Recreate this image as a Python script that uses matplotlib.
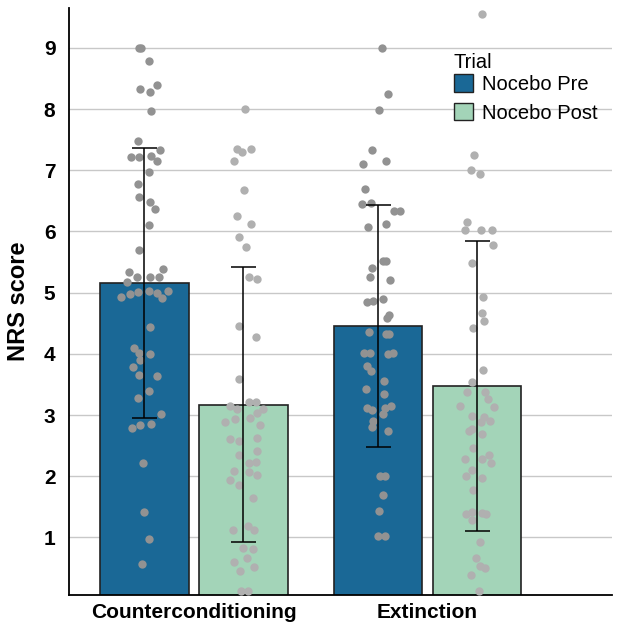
import numpy as np
import matplotlib
matplotlib.use("Agg")
from matplotlib import pyplot as plt
from matplotlib.patches import Patch

plt.rcParams["font.family"] = ["Liberation Sans", "DejaVu Sans"]

conditions = ["Counterconditioning", "Extinction"]
trials = ["Nocebo Pre", "Nocebo Post"]

# bar heights (means) and error bar half-widths (SD)
means = {"Nocebo Pre": [5.16, 4.46], "Nocebo Post": [3.17, 3.47]}
sds = {"Nocebo Pre": [2.21, 1.98], "Nocebo Post": [2.25, 2.37]}

# individual NRS scores (value, horizontal jitter in category units)
cc_pre = [9.0, 9.0, 8.78, 8.40, 8.33, 8.28, 7.97, 7.48, 7.33, 7.21, 7.21, 7.24, 7.15,
          6.98, 6.78, 6.56, 6.48, 6.37, 6.11, 5.69, 5.34, 5.38, 5.26, 5.26, 5.26, 5.17,
          4.93, 4.98, 5.01, 5.03, 5.0, 5.03, 4.91, 4.44, 4.09, 4.02, 4.0, 3.90, 3.79,
          3.66, 3.64, 3.40, 3.28, 3.02, 2.79, 2.84, 2.85, 2.22, 1.41, 0.98, 0.56]
cc_pre_jit = [-0.021, -0.015, 0.019, 0.053, -0.020, 0.024, 0.027, -0.027, 0.067, -0.058,
              -0.023, 0.029, 0.054, 0.021, -0.027, -0.021, 0.026, 0.046, 0.021, -0.021,
              -0.067, 0.081, -0.030, 0.023, 0.062, -0.073, -0.099, -0.063, -0.026, 0.020,
              0.054, 0.103, 0.075, 0.023, -0.045, -0.023, 0.026, -0.018, -0.050, -0.021,
              0.054, 0.021, -0.026, 0.070, -0.054, -0.018, 0.030, -0.006, -0.001, 0.019,
              -0.009]

cc_post = [8.0, 7.34, 7.30, 7.34, 7.16, 6.67, 6.25, 6.12, 5.91, 5.75, 5.25, 5.22, 4.45,
           4.27, 3.59, 3.22, 3.21, 3.15, 3.10, 3.10, 3.04, 2.96, 2.89, 2.93, 2.84, 2.61,
           2.57, 2.63, 2.41, 2.35, 2.22, 2.23, 2.09, 2.07, 2.02, 1.94, 1.86, 1.64, 1.19,
           1.13, 1.13, 0.83, 0.81, 0.67, 0.60, 0.52, 0.46, 0.13, 0.13]
cc_post_jit = [0.007, -0.029, -0.006, 0.031, -0.039, 0.001, -0.029, 0.033, -0.017, 0.010,
               0.023, 0.056, -0.018, 0.053, -0.021, 0.026, 0.054, -0.057, -0.027, 0.083,
               0.060, 0.027, -0.080, -0.036, 0.073, -0.057, -0.021, 0.059, 0.057, -0.018,
               0.024, 0.053, -0.039, 0.023, 0.060, -0.059, -0.020, 0.043, 0.018, -0.043,
               0.044, -0.003, 0.043, 0.016, -0.040, 0.047, -0.013, -0.009, 0.018]

ext_pre = [9.0, 8.24, 7.99, 7.33, 7.16, 7.10, 6.70, 6.45, 6.47, 6.34, 6.33, 6.07, 6.12,
           5.52, 5.51, 5.41, 5.25, 5.21, 4.84, 4.87, 4.90, 4.64, 4.59, 4.35, 4.33, 4.33,
           4.02, 4.02, 4.00, 4.02, 3.80, 3.72, 3.56, 3.43, 3.34, 3.12, 3.09, 3.12, 3.15,
           3.02, 2.90, 2.80, 2.74, 2.00, 2.00, 1.70, 1.44, 1.02, 1.02]
ext_pre_jit = [0.016, 0.044, 0.006, -0.026, 0.033, -0.064, -0.056, -0.067, -0.029, 0.070,
               0.096, -0.043, 0.034, 0.023, 0.034, -0.026, -0.036, 0.050, -0.047, -0.021,
               0.021, 0.047, 0.040, -0.040, 0.034, 0.046, -0.061, -0.036, 0.042, 0.064,
               -0.048, -0.030, 0.024, -0.053, 0.027, -0.048, -0.026, 0.031, 0.057, 0.023,
               -0.021, -0.026, 0.043, 0.010, 0.031, 0.021, 0.006, 0.000, 0.031]

ext_post = [9.55, 7.25, 7.00, 6.94, 6.16, 6.02, 6.02, 6.02, 5.78, 5.49, 4.93, 4.66, 4.54,
            4.43, 3.73, 3.54, 3.37, 3.38, 3.26, 3.15, 3.13, 2.98, 2.97, 2.91, 2.88, 2.74,
            2.78, 2.69, 2.47, 2.28, 2.28, 2.34, 2.21, 2.10, 2.00, 1.98, 1.77, 1.39, 1.42,
            1.40, 1.38, 1.28, 0.93, 0.67, 0.53, 0.50, 0.38, 0.13]
ext_post_jit = [0.022, -0.015, -0.025, 0.011, -0.045, -0.054, 0.018, 0.065, 0.069, -0.021,
                0.025, 0.021, 0.029, -0.019, 0.027, -0.022, -0.042, 0.032, 0.048, -0.074,
                0.071, -0.022, 0.031, 0.055, 0.018, -0.033, -0.022, 0.019, -0.016, -0.051,
                0.019, 0.052, 0.061, -0.024, -0.046, 0.022, -0.018, -0.048, -0.021, 0.021,
                0.036, -0.022, 0.012, -0.005, 0.014, 0.035, -0.027, 0.008]

scores = {
    ("Counterconditioning", "Nocebo Pre"): (cc_pre, cc_pre_jit),
    ("Counterconditioning", "Nocebo Post"): (cc_post, cc_post_jit),
    ("Extinction", "Nocebo Pre"): (ext_pre, ext_pre_jit),
    ("Extinction", "Nocebo Post"): (ext_post, ext_post_jit),
}

bar_colors = {"Nocebo Pre": "#1a6896", "Nocebo Post": "#a3d4b8"}
dot_colors = {"Nocebo Pre": "#929292", "Nocebo Post": "#b0b0b0"}
offsets = {"Nocebo Pre": -0.212, "Nocebo Post": 0.212}
width = 0.379

fig = plt.figure(figsize=(6.27, 6.25), dpi=100)
ax = fig.add_axes([0.1105, 0.048, 0.866, 0.939])

x = np.arange(len(conditions))
for trial in trials:
    xs = x + offsets[trial]
    ax.bar(xs, means[trial], width=width, color=bar_colors[trial],
           edgecolor="#222222", linewidth=1.2, zorder=2)
for trial in trials:
    for i, cond in enumerate(conditions):
        vals, jit = scores[(cond, trial)]
        ax.scatter(x[i] + offsets[trial] + np.array(jit), vals, s=36,
                   color=dot_colors[trial], linewidths=0, zorder=3)
for trial in trials:
    xs = x + offsets[trial]
    ax.errorbar(xs, means[trial], yerr=sds[trial], fmt="none", ecolor="black",
                elinewidth=1.1, capsize=9, capthick=1.1, zorder=4)

ax.set_xlim(-0.533, 1.79)
ax.set_ylim(0.06, 9.65)
ax.set_yticks(range(1, 10))
ax.set_xticks(x)
ax.set_xticklabels(conditions, fontsize=15, fontweight="bold")
ax.tick_params(axis="y", length=0, pad=10, labelsize=15)
ax.tick_params(axis="x", length=0, pad=6)
for lab in ax.get_yticklabels():
    lab.set_fontweight("bold")
ax.yaxis.grid(True, color="#c8c8c8", linewidth=1)
ax.set_axisbelow(True)
ax.spines["top"].set_visible(False)
ax.spines["right"].set_visible(False)
ax.spines["left"].set_linewidth(1.3)
ax.spines["bottom"].set_linewidth(1.3)
ax.set_ylabel("NRS score", fontsize=17, fontweight="bold", labelpad=10)

handles = [Patch(facecolor=bar_colors[t], edgecolor="#222222", label=t) for t in trials]
leg = ax.legend(handles=handles, title="Trial", loc="upper left",
                bbox_to_anchor=(0.675, 0.955), frameon=False, fontsize=14.5,
                title_fontsize=14.5, handlelength=0.95, handleheight=0.95,
                handletextpad=0.45, labelspacing=0.45)
leg._legend_box.align = "left"
leg._legend_box.sep = 2

fig.savefig("out.png", dpi=100)
